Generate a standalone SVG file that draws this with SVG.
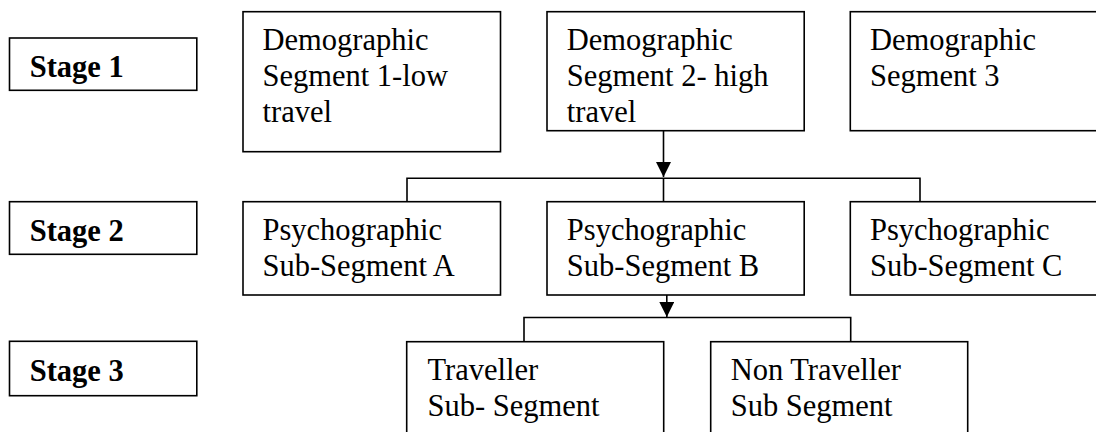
<svg xmlns="http://www.w3.org/2000/svg" width="1096" height="432" viewBox="0 0 1096 432">
  <style>
    .box { fill: #ffffff; stroke: #000000; stroke-width: 1.6; }
    .txt { font-family: "Liberation Serif", "Times New Roman", serif; font-size: 30.5px; fill: #000000; }
    .stage { font-family: "Liberation Serif", "Times New Roman", serif; font-size: 30.5px; font-weight: bold; fill: #000000; }
    .conn { fill: none; stroke: #000000; stroke-width: 1.6; }
  </style>
  <defs>
    <marker id="arrow" markerUnits="userSpaceOnUse" markerWidth="16" markerHeight="16" refX="15" refY="7.5" orient="auto">
      <path d="M0,0 L15,7.5 L0,15 z" fill="#000000"/>
    </marker>
  </defs>
  <rect width="1096" height="432" fill="#ffffff"/>

  <g id="connectors">
    <line class="conn" x1="663.5" y1="131" x2="663.5" y2="177" marker-end="url(#arrow)"/>
    <polyline class="conn" points="407,201.7 407,178.3 920,178.3 920,201.7"/>
    <line class="conn" x1="663.5" y1="178.3" x2="663.5" y2="201.7"/>
    <line class="conn" x1="666.8" y1="295" x2="666.8" y2="317" marker-end="url(#arrow)"/>
    <polyline class="conn" points="524,341.7 524,317.5 850.7,317.5 850.7,341.7"/>
  </g>

  <g id="stage1">
    <rect class="box" x="9.5" y="38" width="187.3" height="52.3"/>
    <text class="stage" x="29.7" y="77">Stage 1</text>
  </g>
  <g id="stage2">
    <rect class="box" x="9.5" y="201.7" width="187.3" height="52.6"/>
    <text class="stage" x="29.7" y="241">Stage 2</text>
  </g>
  <g id="stage3">
    <rect class="box" x="9.5" y="341.3" width="187.3" height="54.4"/>
    <text class="stage" x="29.7" y="381">Stage 3</text>
  </g>

  <g id="demo1">
    <rect class="box" x="243" y="11.7" width="257.5" height="140"/>
    <text class="txt"><tspan x="262.5" y="50">Demographic</tspan><tspan x="262.5" y="86">Segment 1-low</tspan><tspan x="262.5" y="122">travel</tspan></text>
  </g>
  <g id="demo2">
    <rect class="box" x="547" y="11.7" width="257.2" height="119"/>
    <text class="txt"><tspan x="566.8" y="50">Demographic</tspan><tspan x="566.8" y="86">Segment 2- high</tspan><tspan x="566.8" y="122">travel</tspan></text>
  </g>
  <g id="demo3">
    <rect class="box" x="850.3" y="11.7" width="300" height="119"/>
    <text class="txt"><tspan x="870" y="50">Demographic</tspan><tspan x="870" y="86">Segment 3</tspan></text>
  </g>

  <g id="psychoA">
    <rect class="box" x="243" y="201.7" width="257.5" height="93.3"/>
    <text class="txt"><tspan x="262.5" y="240">Psychographic</tspan><tspan x="262.5" y="276">Sub-Segment A</tspan></text>
  </g>
  <g id="psychoB">
    <rect class="box" x="547" y="201.7" width="257.2" height="93.3"/>
    <text class="txt"><tspan x="566.8" y="240">Psychographic</tspan><tspan x="566.8" y="276">Sub-Segment B</tspan></text>
  </g>
  <g id="psychoC">
    <rect class="box" x="850.3" y="201.7" width="300" height="93.3"/>
    <text class="txt"><tspan x="870" y="240">Psychographic</tspan><tspan x="870" y="276">Sub-Segment C</tspan></text>
  </g>

  <g id="traveller">
    <rect class="box" x="406.7" y="341.7" width="257" height="120"/>
    <text class="txt"><tspan x="427.5" y="380">Traveller</tspan><tspan x="427.5" y="416">Sub- Segment</tspan></text>
  </g>
  <g id="nontraveller">
    <rect class="box" x="710.7" y="341.7" width="257" height="120"/>
    <text class="txt"><tspan x="730.7" y="380">Non Traveller</tspan><tspan x="730.7" y="416">Sub Segment</tspan></text>
  </g>
</svg>
